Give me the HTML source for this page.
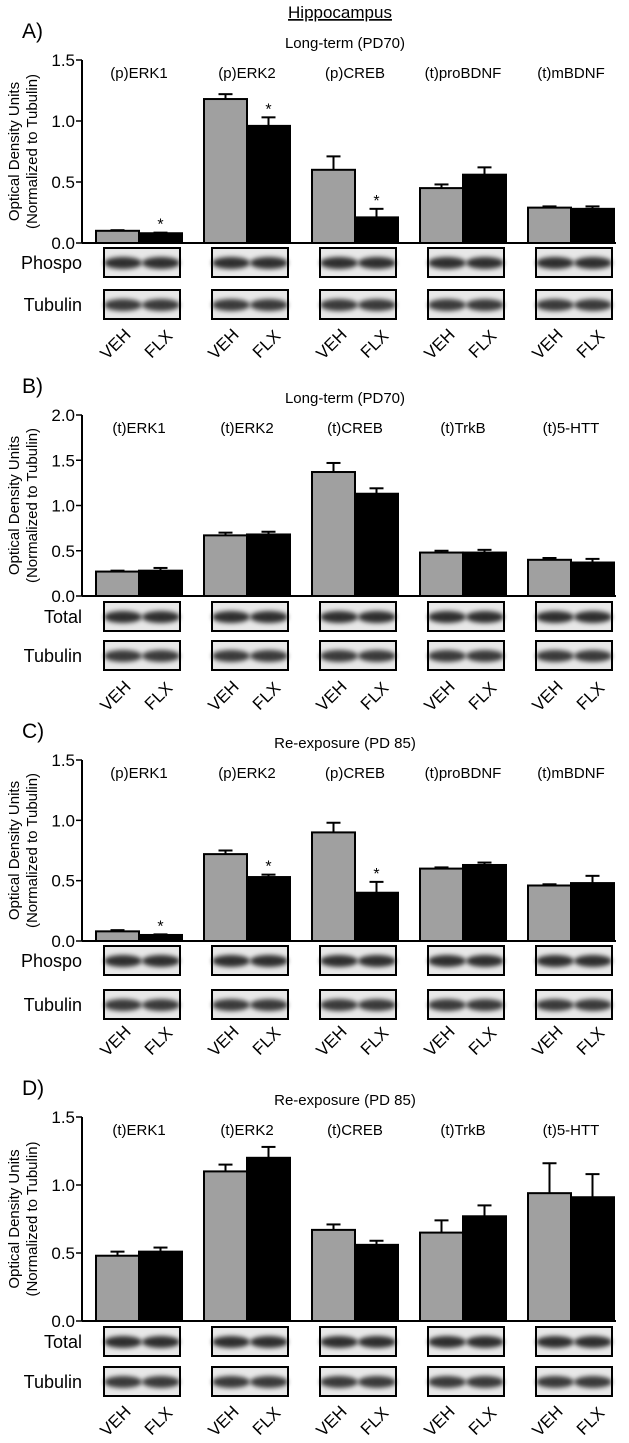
<!DOCTYPE html>
<html><head><meta charset="utf-8"><style>
body{margin:0;background:#fff}
svg{display:block;font-family:"Liberation Sans",Arial,sans-serif}
</style></head><body>
<svg id="fig" width="629" height="1443" viewBox="0 0 629 1443">
<defs><filter id="bl" x="-20%" y="-60%" width="140%" height="220%"><feGaussianBlur stdDeviation="2.5"/></filter></defs>
<text x="340" y="18" font-size="17" text-anchor="middle" text-decoration="underline">Hippocampus</text>
</svg>
<script>
const groupsA=["(p)ERK1","(p)ERK2","(p)CREB","(t)proBDNF","(t)mBDNF"];
const vehA=[0.10,1.18,0.60,0.45,0.29];const flxA=[0.08,0.96,0.21,0.56,0.28];
const vehErrA=[0.005,0.04,0.11,0.03,0.01];const flxErrA=[0.005,0.07,0.07,0.06,0.02];
const starA=[1,1,1,0,0];
const groupsB=["(t)ERK1","(t)ERK2","(t)CREB","(t)TrkB","(t)5-HTT"];
const vehB=[0.27,0.67,1.37,0.48,0.40];const flxB=[0.28,0.68,1.13,0.48,0.37];
const vehErrB=[0.01,0.03,0.10,0.02,0.02];const flxErrB=[0.03,0.03,0.06,0.03,0.04];
const starB=[0,0,0,0,0];
const groupsC=["(p)ERK1","(p)ERK2","(p)CREB","(t)proBDNF","(t)mBDNF"];
const vehC=[0.08,0.72,0.90,0.60,0.46];const flxC=[0.05,0.53,0.40,0.63,0.48];
const vehErrC=[0.01,0.03,0.08,0.01,0.01];const flxErrC=[0.005,0.02,0.09,0.02,0.06];
const starC=[1,1,1,0,0];
const groupsD=["(t)ERK1","(t)ERK2","(t)CREB","(t)TrkB","(t)5-HTT"];
const vehD=[0.48,1.10,0.67,0.65,0.94];const flxD=[0.51,1.20,0.56,0.77,0.91];
const vehErrD=[0.03,0.05,0.04,0.09,0.22];const flxErrD=[0.03,0.08,0.03,0.08,0.17];
const starD=[0,0,0,0,0];
const ticksA=["0.0","0.5","1.0","1.5"];const ticksB=["0.0","0.5","1.0","1.5","2.0"];

const svg=document.getElementById('fig');const NS="http://www.w3.org/2000/svg";
function mk(t,a,txt){const e=document.createElementNS(NS,t);for(const k in a)e.setAttribute(k,a[k]);if(txt!==undefined)e.textContent=txt;svg.appendChild(e);return e;}

function panel(p){
  const y0=p.y0,yTop=p.yTop,max=p.max;
  const Y=v=>y0-(v/max)*(y0-yTop);
  const X=i=>96+i*108;
  let e=mk('text',{x:22,y:yTop-22,'font-size':21},p.letter);
  
  
  e=mk('text',{x:345,y:yTop-12,'font-size':15,'text-anchor':'middle'},p.title);
  
  
  const cy=(y0+yTop)/2;
  e=mk('text',{x:0,y:0,'font-size':15,'text-anchor':'middle',transform:`translate(19,${cy}) rotate(-90)`},'Optical Density Units');
  
  
  e=mk('text',{x:0,y:0,'font-size':15,'text-anchor':'middle',transform:`translate(37,${cy}) rotate(-90)`},'(Normalized to Tubulin)');
  
  
  p.ticks.forEach(t=>{const v=parseFloat(t);
    mk('line',{x1:76,x2:82,y1:Y(v),y2:Y(v),stroke:'#000','stroke-width':1.5});
    e=mk('text',{x:75,y:Y(v)+6,'font-size':17,'text-anchor':'end'},t);
    
    });
  p.groups.forEach((g,i)=>{
    const x=X(i),w=43;
    e=mk('text',{x:x+w,y:yTop+18,'font-size':15,'text-anchor':'middle'},g);
    
    
    [[p.veh[i],p.vehErr[i],'#a0a0a0',x],[p.flx[i],p.flxErr[i],'#000',x+w]].forEach(([v,er,c,bx],k)=>{
      const cx=bx+w/2,top=Y(v+er);
      mk('line',{x1:cx,x2:cx,y1:Y(v),y2:top,stroke:'#000','stroke-width':2});
      mk('line',{x1:cx-7,x2:cx+7,y1:top,y2:top,stroke:'#000','stroke-width':2});
      const r=mk('rect',{x:bx,y:Y(v),width:w,height:y0-Y(v),fill:c,stroke:'#000','stroke-width':2});
      
      
      if(k&&p.star[i]){e=mk('text',{x:cx,y:top-3,'font-size':16,'text-anchor':'middle'},'*');
        
        }
    });
    [[p.by1,0.8],[p.by2,0.75]].forEach(([by,d],r)=>{
      const bx=x+8;
      mk('rect',{x:bx,y:by,width:76,height:29,fill:'#e8e8e8',stroke:'#000','stroke-width':2});
      [0,1].forEach(j=>{mk('ellipse',{cx:bx+19+j*38,cy:by+15,rx:19,ry:6,fill:`rgba(0,0,0,${d})`,filter:'url(#bl)'});});
    });
    ['VEH','FLX'].forEach((l,j)=>{const cx=x+w/2+j*w+2;
      e=mk('text',{x:0,y:0,'font-size':17,'text-anchor':'middle',transform:`translate(${cx},${p.ly}) rotate(-45)`},l);
      
      });
  });
  mk('line',{x1:82,x2:82,y1:yTop,y2:y0,stroke:'#000','stroke-width':2});
  mk('line',{x1:82,x2:616,y1:y0,y2:y0,stroke:'#000','stroke-width':2});
  [[p.row1,p.by1],['Tubulin',p.by2]].forEach(([t,by])=>{e=mk('text',{x:82,y:by+21,'font-size':18,'text-anchor':'end'},t);
    
    });
}
panel({letter:'A)',title:'Long-term (PD70)',y0:243,yTop:60,max:1.5,ticks:ticksA,groups:groupsA,veh:vehA,flx:flxA,vehErr:vehErrA,flxErr:flxErrA,star:starA,by1:248,by2:290,row1:'Phospo',ly:348});
panel({letter:'B)',title:'Long-term (PD70)',y0:596,yTop:415,max:2.0,ticks:ticksB,groups:groupsB,veh:vehB,flx:flxB,vehErr:vehErrB,flxErr:flxErrB,star:starB,by1:602,by2:641,row1:'Total',ly:700});
panel({letter:'C)',title:'Re-exposure (PD 85)',y0:941,yTop:760,max:1.5,ticks:ticksA,groups:groupsC,veh:vehC,flx:flxC,vehErr:vehErrC,flxErr:flxErrC,star:starC,by1:946,by2:990,row1:'Phospo',ly:1045});
panel({letter:'D)',title:'Re-exposure (PD 85)',y0:1321,yTop:1117,max:1.5,ticks:ticksA,groups:groupsD,veh:vehD,flx:flxD,vehErr:vehErrD,flxErr:flxErrD,star:starD,by1:1327,by2:1367,row1:'Total',ly:1425});
</script>
</body></html>
